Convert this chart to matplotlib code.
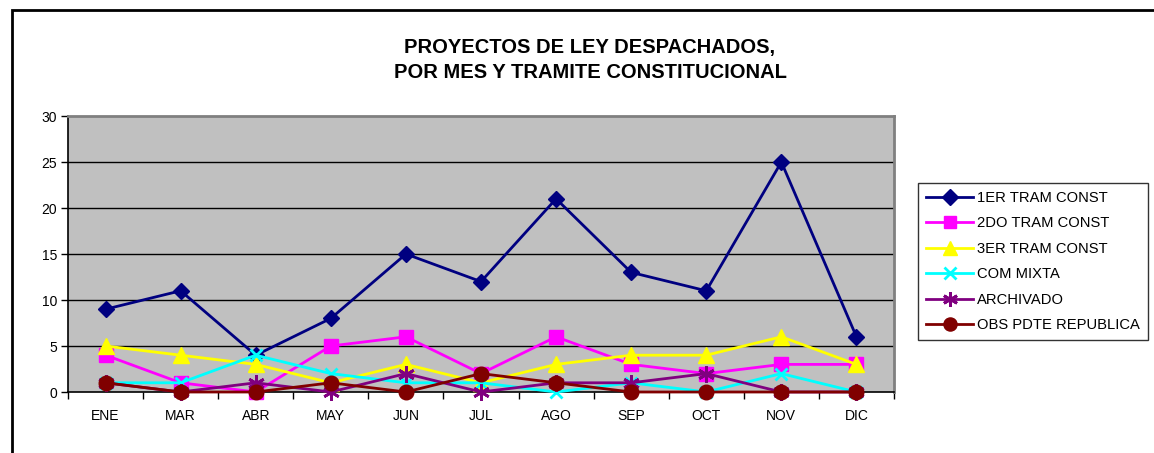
import numpy as np
import matplotlib.pyplot as plt
from matplotlib.patches import Rectangle

plt.rcParams['font.family'] = ['Liberation Sans', 'DejaVu Sans']

# Datos
meses = ['ENE', 'MAR', 'ABR', 'MAY', 'JUN', 'JUL', 'AGO', 'SEP', 'OCT', 'NOV', 'DIC']
primer_tramite = [9, 11, 4, 8, 15, 12, 21, 13, 11, 25, 6]
segundo_tramite = [4, 1, 0, 5, 6, 2, 6, 3, 2, 3, 3]
tercer_tramite = [5, 4, 3, 1, 3, 1, 3, 4, 4, 6, 3]
com_mixta = [1, 1, 4, 2, 1, 1, 0, 1, 0, 2, 0]
archivado = [1, 0, 1, 0, 2, 0, 1, 1, 2, 0, 0]
obs_pdte = [1, 0, 0, 1, 0, 2, 1, 0, 0, 0, 0]

series = [
    ('1ER TRAM CONST', primer_tramite, '#000080', 'D', 8.5),
    ('2DO TRAM CONST', segundo_tramite, '#FF00FF', 's', 10),
    ('3ER TRAM CONST', tercer_tramite, '#FFFF00', '^', 11),
    ('COM MIXTA', com_mixta, '#00FFFF', 'x', 9),
    ('ARCHIVADO', archivado, '#800080', (6, 2, 0), 12),
    ('OBS PDTE REPUBLICA', obs_pdte, '#800000', 'o', 10.5),
]

fig = plt.figure(figsize=(11.54, 4.53), dpi=100)
ax = fig.add_axes([68 / 1154, 1 - 392 / 453, (894 - 68) / 1154, (392 - 116) / 453])
ax.set_facecolor('#C0C0C0')

x = np.arange(len(meses))
for nombre, valores, color, marcador, tam in series:
    ax.plot(x, valores, color=color, marker=marcador, markersize=tam, linewidth=2,
            markeredgewidth=2 if marcador in ('x',) or isinstance(marcador, tuple) else 1,
            markeredgecolor=color, label=nombre, clip_on=False, zorder=3)

ax.set_xlim(-0.5, len(meses) - 0.5)
ax.set_ylim(0, 30)
ax.set_yticks(range(0, 31, 5))
ax.set_xticks(x)
ax.set_xticklabels(meses)
ax.set_xticks(np.arange(-0.5, len(meses), 1), minor=True)
ax.tick_params(axis='x', which='major', length=0, pad=12, labelsize=10)
ax.tick_params(axis='x', which='minor', length=5, direction='out', width=1)
ax.tick_params(axis='y', length=5, direction='out', width=1, labelsize=10, pad=3)

for yv in range(5, 30, 5):
    ax.axhline(yv, color='black', linewidth=1, zorder=1)

for lado in ['top', 'right']:
    ax.spines[lado].set_color('#808080')
    ax.spines[lado].set_linewidth(2)
for lado in ['left', 'bottom']:
    ax.spines[lado].set_color('black')
    ax.spines[lado].set_linewidth(1.2)

fig.text(590 / 1154, 1 - 47 / 453, 'PROYECTOS DE LEY DESPACHADOS,', ha='center', va='center',
         fontsize=14.5, fontweight='bold')
fig.text(590 / 1154, 1 - 73 / 453, 'POR MES Y TRAMITE CONSTITUCIONAL', ha='center', va='center',
         fontsize=14.5, fontweight='bold')

leg = ax.legend(loc='center left', bbox_to_anchor=(918 / 1154, 1 - 261.5 / 453),
                bbox_transform=fig.transFigure, frameon=True, fancybox=False,
                fontsize=10.6, handlelength=3.2, labelspacing=0.78, borderpad=0.55,
                handletextpad=0.25, borderaxespad=0)
leg.get_frame().set_edgecolor('black')
leg.get_frame().set_linewidth(1)
for h in leg.legend_handles:
    h.set_markersize(h.get_markersize() * 0.9)

fig.patches.append(Rectangle((12 / 1154, -0.5), 2, 1.5 - 10 / 453, transform=fig.transFigure,
                             fill=False, edgecolor='black', linewidth=2))

fig.savefig('out.png', dpi=100)
